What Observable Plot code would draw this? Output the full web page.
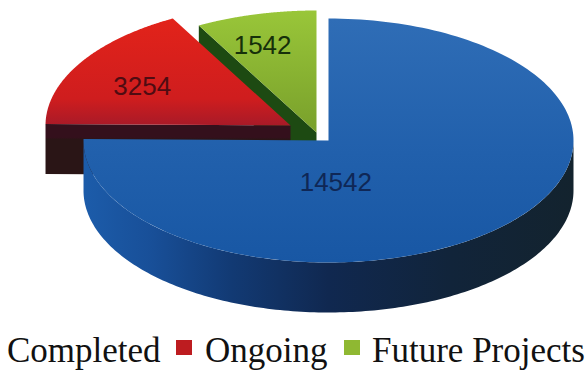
<!DOCTYPE html>
<html>
<head>
<meta charset="utf-8">
<script src="https://cdn.jsdelivr.net/npm/d3@7"></script>
<script src="https://cdn.jsdelivr.net/npm/@observablehq/plot@0.6"></script>
<style>
  html, body { margin: 0; background: #fff; }
  #chart svg { display: block; }
  #legend {
    position: relative; height: 41px; width: 588px;
    font: 35px "Liberation Serif", serif; color: #111; line-height: 41px;
  }
  #legend span { position: absolute; top: 0; white-space: nowrap; }
  #legend i { position: absolute; top: 10px; width: 16px; height: 15px; }
</style>
</head>
<body>
<div id="chart"></div>
<div id="legend"></div>
<script>
// Project counts by status
const categories = ["Completed", "Ongoing", "Future Projects"];
const counts = [14542, 3254, 1542];
const swatches = ["#1f5ca8", "#bd1c20", "#8fb832"];

// Tilted-disc layout shared by all three slices
const width = 588, height = 330;
const rx = 245, ry = 122, depth = 50;
const hubs = [[328, 140], [290, 125], [316, 132]];
const labelShift = [[0.03, 0.345], [-0.605, -0.32], [-0.22, -0.71]];
const labelInk = ["#0f2756", "#4f0c12", "#16300a"];

const arcs = d3.pie().sort(null).startAngle(0).endAngle(2 * Math.PI)(counts);
const onRim = (hub, a, drop = 0) => ({
  x: hub[0] + rx * Math.sin(a),
  y: hub[1] - ry * Math.cos(a) + drop
});
const sweep = (hub, a0, a1, drop = 0) =>
  d3.range(0, 181).map(i => onRim(hub, a0 + (a1 - a0) * i / 180, drop));

const topFace = i => {
  const hub = hubs[i];
  return [{x: hub[0], y: hub[1]}, ...sweep(hub, arcs[i].startAngle, arcs[i].endAngle)];
};
// Straight cut face hanging below one radius of a slice
const cutFace = (i, a) => {
  const hub = hubs[i], rim = onRim(hub, a);
  return [
    {x: hub[0], y: hub[1]}, rim,
    {x: rim.x, y: rim.y + depth}, {x: hub[0], y: hub[1] + depth}
  ];
};
// Curved outer wall of the large slice, from its right-hand extreme round the front
const wall = [
  ...sweep(hubs[0], Math.PI / 2, arcs[0].endAngle),
  ...sweep(hubs[0], arcs[0].endAngle, Math.PI / 2, depth)
];

const gradient = (id, stops, horizontal) => {
  const g = d3.create("svg:linearGradient").attr("id", id)
    .attr("x1", 0).attr("y1", 0)
    .attr("x2", horizontal ? 1 : 0).attr("y2", horizontal ? 0 : 1);
  stops.forEach(([o, c]) => g.append("stop").attr("offset", o).attr("stop-color", c));
  return g.node();
};
const gradients = () => {
  const defs = d3.create("svg:defs");
  [
    gradient("blueTop", [[0, "#2f6db6"], [0.55, "#2160ac"], [1, "#1857a4"]]),
    gradient("redTop", [[0, "#e2231a"], [0.75, "#cf1d1e"], [1, "#a81a28"]]),
    gradient("greenTop", [[0, "#99c639"], [1, "#79a02b"]]),
    gradient("blueWall", [[0, "#1c5caa"], [0.14, "#184f98"], [0.3, "#123a74"], [0.5, "#102850"], [0.75, "#11243a"], [1, "#13232e"]], true),
    gradient("redCut", [[0, "#34101c"], [0.26, "#34101c"], [0.3, "#2a1516"], [1, "#2a1516"]])
  ].forEach(n => defs.node().append(n));
  return defs.node();
};

const poly = (points, fill) => Plot.line([...points, points[0]], {x: "x", y: "y", fill, stroke: "none"});

const labels = counts.map((value, i) => ({
  value,
  x: hubs[i][0] + labelShift[i][0] * rx,
  y: hubs[i][1] + labelShift[i][1] * ry,
  ink: labelInk[i]
}));

const chart = Plot.plot({
  width, height,
  margin: 0,
  style: {background: "#fff", overflow: "hidden"},
  x: {domain: [0, width], range: [0, width], axis: null},
  y: {domain: [0, height], range: [0, height], axis: null},
  marks: [
    gradients,
    poly(cutFace(2, arcs[2].startAngle), "#1d4a12"),
    poly(topFace(2), "url(#greenTop)"),
    poly(cutFace(1, arcs[1].startAngle), "url(#redCut)"),
    poly(topFace(1), "url(#redTop)"),
    poly(wall, "url(#blueWall)"),
    poly(topFace(0), "url(#blueTop)"),
    Plot.text(labels, {
      x: "x", y: "y", text: d => String(d.value), fill: "ink",
      fontSize: 26, fontFamily: "Liberation Sans, sans-serif"
    })
  ]
});
document.getElementById("chart").append(chart);

// Legend row; the leading entry has no colour chip
const legendLeft = [7, 205, 372];
const chipLeft = [null, 176, 344];
const legend = d3.select("#legend");
categories.forEach((name, i) => {
  legend.append("span").style("left", legendLeft[i] + "px").text(name);
  if (chipLeft[i] !== null) {
    legend.append("i").style("left", chipLeft[i] + "px").style("background", swatches[i]);
  }
});
</script>
</body>
</html>
